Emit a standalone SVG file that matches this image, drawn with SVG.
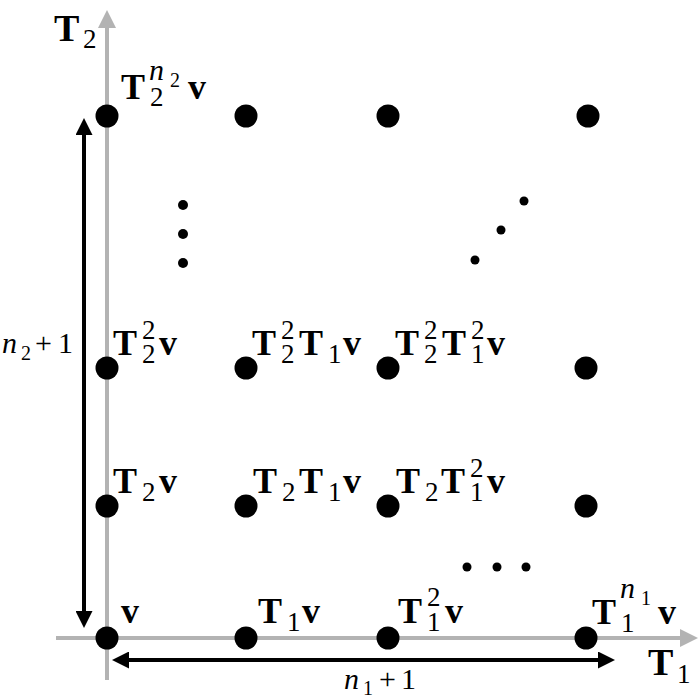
<svg xmlns="http://www.w3.org/2000/svg" width="700" height="700" viewBox="0 0 700 700">
<style>
.ax{stroke:#b3b3b3;stroke-width:4;fill:none}
.ar{stroke:#000;stroke-width:4;fill:none}
.dot{fill:#000}
.sd{fill:#000}
text{font-family:"Liberation Serif","DejaVu Serif",serif;fill:#000}
.b{font-weight:bold;font-size:36px}
.ba{font-weight:bold;font-size:38px}
.s{font-size:27px}
.i{font-style:italic;font-size:30px}
.ss{font-size:20px}
.m{font-style:italic;font-size:30px}
.mr{font-size:30px}
.ms{font-size:20px}
</style>
<defs>
<marker id="gh" viewBox="0 0 18 18" refX="10" refY="9" markerWidth="18" markerHeight="18" markerUnits="userSpaceOnUse" orient="auto-start-reverse"><path d="M0,0 L18,9 L0,18 z" fill="#b3b3b3"/></marker>
<marker id="bh" viewBox="0 0 17 17" refX="9" refY="8.5" markerWidth="17" markerHeight="17" markerUnits="userSpaceOnUse" orient="auto-start-reverse"><path d="M0,0 L17,8.5 L0,17 z" fill="#000"/></marker>
</defs>
<g id="connectors">
<line class="ax" x1="107" y1="680" x2="107" y2="18" marker-end="url(#gh)"/>
<line class="ax" x1="56" y1="638" x2="690" y2="638" marker-end="url(#gh)"/>
<line class="ar" x1="84" y1="126" x2="84" y2="620" marker-start="url(#bh)" marker-end="url(#bh)"/>
<line class="ar" x1="120" y1="660" x2="607" y2="660" marker-start="url(#bh)" marker-end="url(#bh)"/>
</g>
<g id="axis-labels">
<text x="54" y="41"><tspan class="ba">T</tspan><tspan class="s" x="83" y="48">2</tspan></text>
<text x="648" y="675"><tspan class="ba">T</tspan><tspan class="s" x="677" y="683">1</tspan></text>
<text x="2" y="353"><tspan class="m">n</tspan><tspan class="ms" x="21" y="360">2</tspan><tspan class="mr" x="35" y="353">+</tspan><tspan class="mr" x="58" y="353">1</tspan></text>
<text x="344" y="689"><tspan class="m">n</tspan><tspan class="ms" x="363" y="695">1</tspan><tspan class="mr" x="379" y="689">+</tspan><tspan class="mr" x="401" y="689">1</tspan></text>
</g>
<g id="n00"><circle class="dot" cx="107" cy="638" r="11.5"/><text class="b" x="121" y="623">v</text></g>
<g id="n10"><circle class="dot" cx="246" cy="638" r="11.5"/><text x="258" y="623"><tspan class="b">T</tspan><tspan class="s" x="287" y="631">1</tspan><tspan class="b" x="302" y="623">v</tspan></text></g>
<g id="n20"><circle class="dot" cx="388" cy="638" r="11.5"/><text x="398" y="623"><tspan class="b">T</tspan><tspan class="s" x="427" y="631">1</tspan><tspan class="s" x="427" y="606">2</tspan><tspan class="b" x="445" y="623">v</tspan></text></g>
<g id="n30"><circle class="dot" cx="586" cy="638" r="11.5"/><text x="592" y="624"><tspan class="b">T</tspan><tspan class="s" x="621" y="632">1</tspan><tspan class="i" x="620" y="598">n</tspan><tspan class="ss" x="641" y="605">1</tspan><tspan class="b" x="658" y="624">v</tspan></text></g>

<g id="n01"><circle class="dot" cx="107" cy="506" r="11.5"/><text x="113" y="493"><tspan class="b">T</tspan><tspan class="s" x="142" y="501">2</tspan><tspan class="b" x="159" y="493">v</tspan></text></g>
<g id="n11"><circle class="dot" cx="246" cy="506" r="11.5"/><text x="253" y="493"><tspan class="b">T</tspan><tspan class="s" x="282" y="501">2</tspan><tspan class="b" x="299" y="493">T</tspan><tspan class="s" x="328" y="501">1</tspan><tspan class="b" x="343" y="493">v</tspan></text></g>
<g id="n21"><circle class="dot" cx="388" cy="506" r="11.5"/><text x="396" y="493"><tspan class="b">T</tspan><tspan class="s" x="425" y="501">2</tspan><tspan class="b" x="441" y="493">T</tspan><tspan class="s" x="470" y="501">1</tspan><tspan class="s" x="470" y="477">2</tspan><tspan class="b" x="487" y="493">v</tspan></text></g>
<g id="n31"><circle class="dot" cx="586" cy="506" r="11.5"/></g>

<g id="n02"><circle class="dot" cx="107" cy="368" r="11.5"/><text x="113" y="355"><tspan class="b">T</tspan><tspan class="s" x="142" y="339">2</tspan><tspan class="s" x="142" y="363">2</tspan><tspan class="b" x="159" y="355">v</tspan></text></g>
<g id="n12"><circle class="dot" cx="246" cy="368" r="11.5"/><text x="252" y="355"><tspan class="b">T</tspan><tspan class="s" x="281" y="339">2</tspan><tspan class="s" x="281" y="363">2</tspan><tspan class="b" x="299" y="355">T</tspan><tspan class="s" x="328" y="363">1</tspan><tspan class="b" x="343" y="355">v</tspan></text></g>
<g id="n22"><circle class="dot" cx="388" cy="368" r="11.5"/><text x="395" y="355"><tspan class="b">T</tspan><tspan class="s" x="424" y="339">2</tspan><tspan class="s" x="424" y="363">2</tspan><tspan class="b" x="442" y="355">T</tspan><tspan class="s" x="471" y="339">2</tspan><tspan class="s" x="471" y="363">1</tspan><tspan class="b" x="487" y="355">v</tspan></text></g>
<g id="n32"><circle class="dot" cx="586" cy="368" r="11.5"/></g>

<g id="n03"><circle class="dot" cx="107" cy="116" r="11.5"/><text x="121" y="99"><tspan class="b">T</tspan><tspan class="s" x="150" y="106">2</tspan><tspan class="i" x="149" y="80">n</tspan><tspan class="ss" x="170" y="87">2</tspan><tspan class="b" x="188" y="99">v</tspan></text></g>
<g id="n13"><circle class="dot" cx="246" cy="116" r="11.5"/></g>
<g id="n23"><circle class="dot" cx="388" cy="116" r="11.5"/></g>
<g id="n33"><circle class="dot" cx="588" cy="116" r="11.5"/></g>

<g id="ellipsis-v"><circle class="sd" cx="183" cy="205" r="5"/><circle class="sd" cx="183" cy="234" r="5"/><circle class="sd" cx="183" cy="263" r="5"/></g>
<g id="ellipsis-d"><circle class="sd" cx="475" cy="260" r="4.5"/><circle class="sd" cx="501" cy="230" r="4.5"/><circle class="sd" cx="524" cy="201" r="4.5"/></g>
<g id="ellipsis-h"><circle class="sd" cx="467" cy="567" r="4.5"/><circle class="sd" cx="497" cy="567" r="4.5"/><circle class="sd" cx="526" cy="567" r="4.5"/></g>
</svg>
